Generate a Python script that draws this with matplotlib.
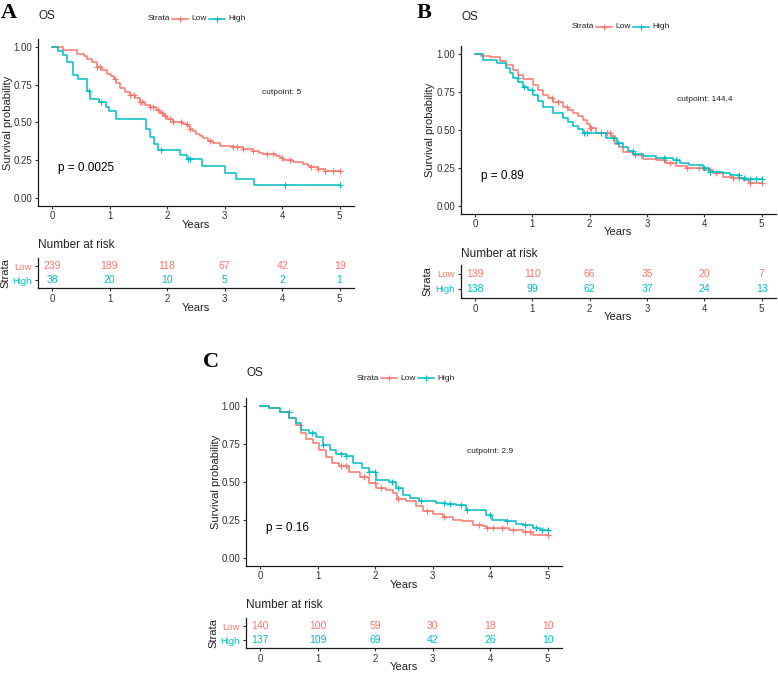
import numpy as np
import matplotlib
matplotlib.use("Agg")
import matplotlib.pyplot as plt
from matplotlib.lines import Line2D

plt.rcParams['font.family'] = ['Liberation Sans', 'DejaVu Sans']

RED = "#F8766D"
TEAL = "#00BFC4"
W, H = 778, 673

years = [0, 1, 2, 3, 4, 5]
strata = ["Low", "High"]

# panel A, cutpoint 5
a_low_t = [0, 0.2, 0.43, 0.55, 0.61, 0.7, 0.78, 0.87, 0.95, 1.02, 1.07, 1.12, 1.18, 1.27, 1.36, 1.45, 1.53, 1.62,
           1.71, 1.8, 1.88, 1.95, 2.0, 2.11, 2.28, 2.35, 2.4, 2.46, 2.51, 2.57, 2.63, 2.72, 2.8, 2.92, 3.15, 3.32,
           3.5, 3.6, 3.67, 3.9, 3.96, 4.02, 4.19, 4.36, 4.45, 4.51, 4.62, 4.74, 5.0]
a_low_s = [1.0, 0.978, 0.956, 0.94, 0.923, 0.9, 0.868, 0.845, 0.824, 0.805, 0.786, 0.76, 0.731, 0.705, 0.68, 0.66,
           0.637, 0.618, 0.6, 0.58, 0.56, 0.54, 0.526, 0.504, 0.489, 0.475, 0.46, 0.443, 0.427, 0.413, 0.399, 0.38,
           0.361, 0.346, 0.335, 0.324, 0.31, 0.3, 0.29, 0.28, 0.265, 0.251, 0.238, 0.225, 0.215, 0.207, 0.19, 0.18,
           0.18]
a_low_cens = [0.78, 0.84, 1.1, 1.36, 1.42, 1.53, 1.56, 1.71, 1.76, 1.85, 1.92, 1.97, 2.05, 2.11, 2.25, 2.34, 2.4,
              2.75, 3.15, 3.21, 3.32, 3.5, 3.73, 3.84, 3.99, 4.13, 4.51, 4.62, 4.74, 4.88, 5.0]
a_high_t = [0, 0.11, 0.2, 0.26, 0.36, 0.46, 0.61, 0.66, 0.82, 0.94, 0.99, 1.12, 1.63, 1.7, 1.78, 1.85, 2.22, 2.34,
            2.6, 3.01, 3.2, 3.51, 5.0]
a_high_s = [1.0, 0.974, 0.947, 0.9, 0.816, 0.789, 0.71, 0.658, 0.634, 0.605, 0.578, 0.52, 0.46, 0.406, 0.36, 0.318,
            0.285, 0.255, 0.213, 0.167, 0.125, 0.083, 0.083]
a_high_cens = [0.64, 0.85, 1.9, 2.36, 2.4, 4.05, 5.0]
a_risk_low = [239, 189, 118, 67, 42, 19]
a_risk_high = [38, 20, 10, 5, 2, 1]

# panel B, cutpoint 144.4
b_low_t = [0, 0.1, 0.26, 0.43, 0.55, 0.67, 0.76, 0.84, 1.02, 1.1, 1.19, 1.28, 1.36, 1.54, 1.62, 1.71, 1.8, 1.89,
           1.95, 2.0, 2.12, 2.38, 2.44, 2.51, 2.58, 2.76, 2.93, 3.16, 3.34, 3.51, 3.68, 3.97, 4.15, 4.32, 4.5, 4.67,
           4.78, 5.0]
b_low_s = [1.0, 0.99, 0.98, 0.952, 0.93, 0.896, 0.865, 0.835, 0.797, 0.765, 0.731, 0.71, 0.687, 0.654, 0.632, 0.61,
           0.59, 0.566, 0.54, 0.511, 0.478, 0.46, 0.41, 0.385, 0.357, 0.335, 0.306, 0.302, 0.28, 0.264, 0.247, 0.236,
           0.214, 0.192, 0.181, 0.17, 0.152, 0.152]
b_low_cens = [1.35, 1.45, 1.6, 2.0, 2.02, 2.3, 2.35, 2.9, 3.3, 3.4, 3.7, 3.9, 4.1, 4.2, 4.5, 4.6, 4.8, 5.0]
b_high_t = [0, 0.15, 0.38, 0.55, 0.62, 0.67, 0.76, 0.84, 0.93, 1.02, 1.1, 1.19, 1.36, 1.54, 1.62, 1.71, 1.8, 1.89,
            2.12, 2.29, 2.47, 2.58, 2.67, 2.76, 2.93, 3.16, 3.45, 3.57, 3.74, 3.97, 4.09, 4.32, 4.44, 4.61, 4.73, 5.0]
b_high_s = [1.0, 0.963, 0.94, 0.907, 0.875, 0.841, 0.815, 0.786, 0.76, 0.731, 0.69, 0.654, 0.61, 0.577, 0.55, 0.526,
            0.505, 0.482, 0.478, 0.445, 0.416, 0.39, 0.365, 0.341, 0.328, 0.317, 0.302, 0.28, 0.27, 0.247, 0.225,
            0.218, 0.203, 0.185, 0.176, 0.176]
b_high_cens = [0.75, 0.85, 1.0, 1.9, 1.95, 2.2, 2.4, 2.5, 2.75, 2.8, 3.3, 3.5, 4.0, 4.1, 4.6, 4.7, 4.8, 4.9, 5.0]
b_risk_low = [139, 110, 66, 35, 20, 7]
b_risk_high = [138, 99, 62, 37, 24, 13]

# panel C, cutpoint 2.9
c_low_t = [0, 0.16, 0.34, 0.51, 0.63, 0.71, 0.8, 0.92, 1.03, 1.15, 1.26, 1.38, 1.55, 1.73, 1.9, 2.02, 2.19, 2.31,
           2.39, 2.54, 2.71, 2.83, 3.0, 3.18, 3.35, 3.52, 3.7, 3.87, 3.93, 4.33, 4.57, 4.75, 5.0]
c_low_s = [1.0, 0.985, 0.963, 0.919, 0.875, 0.82, 0.781, 0.755, 0.711, 0.667, 0.624, 0.606, 0.569, 0.532, 0.492,
           0.46, 0.449, 0.427, 0.387, 0.372, 0.344, 0.306, 0.289, 0.267, 0.252, 0.241, 0.219, 0.212, 0.197, 0.186,
           0.168, 0.153, 0.153]
c_low_cens = [0.7, 1.4, 1.5, 1.8, 2.0, 2.1, 2.4, 2.9, 3.2, 3.8, 3.95, 4.05, 4.2, 4.4, 4.6, 4.7, 5.0]
c_high_t = [0, 0.16, 0.34, 0.51, 0.63, 0.71, 0.86, 0.97, 1.09, 1.21, 1.32, 1.49, 1.61, 1.78, 1.9, 2.02, 2.25, 2.36,
            2.48, 2.6, 2.77, 3.06, 3.23, 3.41, 3.58, 3.93, 4.04, 4.28, 4.45, 4.57, 4.74, 4.86, 5.0]
c_high_s = [1.0, 0.985, 0.963, 0.919, 0.886, 0.843, 0.82, 0.799, 0.744, 0.711, 0.683, 0.668, 0.624, 0.591, 0.569,
            0.514, 0.503, 0.46, 0.416, 0.394, 0.372, 0.361, 0.354, 0.346, 0.317, 0.284, 0.252, 0.241, 0.226, 0.219,
            0.197, 0.186, 0.186]
c_high_cens = [0.5, 0.9, 1.1, 1.4, 1.5, 1.9, 2.0, 2.3, 2.4, 2.8, 3.2, 3.3, 3.5, 3.6, 4.0, 4.3, 4.6, 4.8, 4.9, 5.0]
c_risk_low = [140, 100, 59, 30, 18, 10]
c_risk_high = [137, 109, 69, 42, 26, 10]


def frac(l, t, r, b):
    return [l / W, 1 - b / H, (r - l) / W, (b - t) / H]


def fx(px):
    return px / W


def fy(py):
    return 1 - py / H


def surv_at(times, surv, t):
    i = np.searchsorted(times, t, side="right") - 1
    return np.asarray(surv)[i]


def style_axis(ax):
    for s in ["top", "right"]:
        ax.spines[s].set_visible(False)
    for s in ["left", "bottom"]:
        ax.spines[s].set_linewidth(0.9)
        ax.spines[s].set_color("#1a1a1a")
    ax.tick_params(length=2.5, width=0.8, color="#333333", labelsize=7, labelcolor="#333333", pad=1.5)
    ax.set_xlim(-0.25, 5.25)
    ax.set_xticks(years)
    ax.patch.set_alpha(0)


fig = plt.figure(figsize=(W / 100, H / 100), dpi=100)


def km_panel(letter, letter_xy, box, table_box, curves, risk, pval, cut, lab):
    l, t, r, b = box
    ax = fig.add_axes(frac(*box))
    for times, surv, cens, col in curves:
        ax.step(times, surv, where="post", color=col, lw=1.1)
        ax.plot(cens, surv_at(times, surv, cens), ls="none", marker="+", ms=5, mew=0.8, color=col)
    style_axis(ax)
    ax.set_ylim(-0.05, 1.05)
    ax.set_yticks([0, 0.25, 0.5, 0.75, 1.0])
    ax.set_yticklabels(["0.00", "0.25", "0.50", "0.75", "1.00"])
    ax.text(0.1, 0.2, pval, fontsize=8.5, ha="left", va="center")
    ax.text(4.0, 0.7, "cutpoint: " + cut, fontsize=6, ha="center", va="center", color="#222222")
    ax.set_ylabel("Survival probability", fontsize=8, color="#222222")
    ax.yaxis.set_label_coords(fx(lab["ylab_x"]), fy((t + b) / 2), transform=fig.transFigure)
    ax.set_xlabel("Years", fontsize=8, color="#222222")
    ax.xaxis.set_label_coords(fx((l + r) / 2), fy(lab["xlab_y"]), transform=fig.transFigure)

    fig.text(fx(letter_xy[0]), fy(letter_xy[1]), letter, fontsize=16, fontweight="bold",
             family="Liberation Serif", ha="left", va="center")
    fig.text(fx(l + 1), fy(lab["os_y"]), "OS", fontsize=8.5, ha="left", va="center", color="#222222")

    # legend
    lx, ly = lab["leg"]
    fig.text(fx(lx), fy(ly), "Strata", fontsize=6, ha="left", va="center", color="#222222")
    for dx, col, name in [(24, RED, "Low"), (61, TEAL, "High")]:
        fig.add_artist(Line2D([fx(lx + dx), fx(lx + dx + 16)], [fy(ly), fy(ly)], color=col, lw=1.1,
                              transform=fig.transFigure))
        fig.add_artist(Line2D([fx(lx + dx + 8)], [fy(ly)], color=col, marker="+", ms=5, mew=0.8,
                              transform=fig.transFigure))
        fig.text(fx(lx + dx + 19), fy(ly), name, fontsize=6, ha="left", va="center", color="#222222")

    # risk table
    tl, tt, tr, tb = table_box
    tax = fig.add_axes(frac(*table_box))
    style_axis(tax)
    tax.set_ylim(0.4, 2.6)
    tax.set_yticks([2, 1])
    tax.set_yticklabels(strata)
    for lbl, col in zip(tax.get_yticklabels(), [RED, TEAL]):
        lbl.set_color(col)
        lbl.set_fontsize(6.8)
    for row, nums, col in [(2, risk[0], RED), (1, risk[1], TEAL)]:
        for x, n in zip(years, nums):
            tax.text(x, row, str(n), ha="center", va="center", fontsize=7.5, color=col)
    tax.set_ylabel("Strata", fontsize=8, color="#222222")
    tax.yaxis.set_label_coords(fx(lab["strata_x"]), fy((tt + tb) / 2), transform=fig.transFigure)
    tax.set_xlabel("Years", fontsize=8, color="#222222")
    tax.xaxis.set_label_coords(fx((tl + tr) / 2), fy(lab["txlab_y"]), transform=fig.transFigure)
    fig.text(fx(tl), fy(lab["nar_y"]), "Number at risk", fontsize=8.5, ha="left", va="center", color="#222222")


km_panel("A", (1, 13), (37.6, 39.5, 354, 205.5), (37.6, 257.6, 354, 288.4),
         [(a_low_t, a_low_s, a_low_cens, RED), (a_high_t, a_high_s, a_high_cens, TEAL)],
         (a_risk_low, a_risk_high), "p = 0.0025", "5",
         dict(ylab_x=13.5, xlab_y=220, os_y=16, leg=(148, 19), strata_x=10.5, txlab_y=303, nar_y=245))

km_panel("B", (417, 13), (460.5, 46.4, 776, 213.6), (460.5, 265, 776, 298),
         [(b_low_t, b_low_s, b_low_cens, RED), (b_high_t, b_high_s, b_high_cens, TEAL)],
         (b_risk_low, b_risk_high), "p = 0.89", "144.4",
         dict(ylab_x=435, xlab_y=227, os_y=17, leg=(572, 27), strata_x=432.5, txlab_y=312, nar_y=254))

km_panel("C", (203, 362), (245.6, 398.4, 562, 565.6), (245.6, 617.6, 562, 648.4),
         [(c_low_t, c_low_s, c_low_cens, RED), (c_high_t, c_high_s, c_high_cens, TEAL)],
         (c_risk_low, c_risk_high), "p = 0.16", "2.9",
         dict(ylab_x=221, xlab_y=580, os_y=373, leg=(357, 378), strata_x=218.5, txlab_y=662, nar_y=605))

fig.savefig("out.png", dpi=100, facecolor="white")
